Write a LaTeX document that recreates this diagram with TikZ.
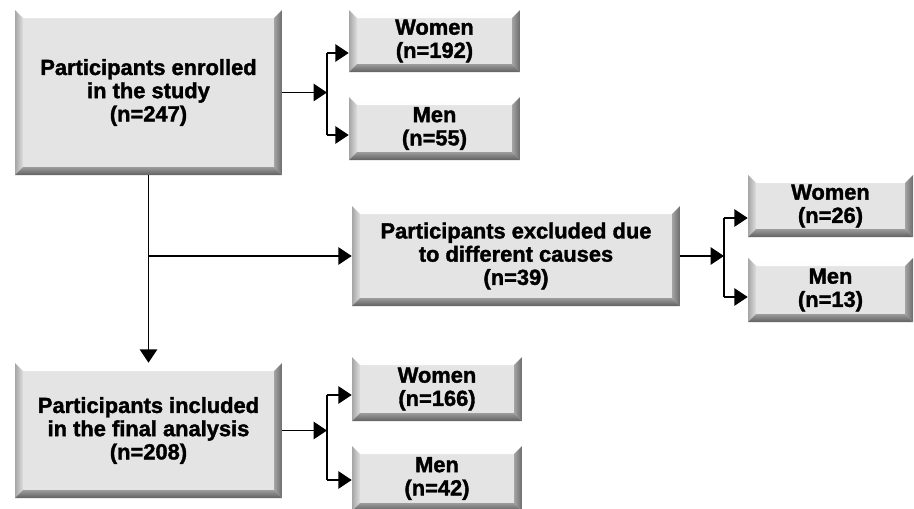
\documentclass[tikz,border=0pt]{standalone}
\usepackage{fontspec}
\setmainfont{Liberation Sans}
\newfontfamily\boxfont{Liberation Sans Bold}[FakeBold=1.6]
\usetikzlibrary{arrows.meta}
\definecolor{boxface}{HTML}{E4E4E4}
\definecolor{bevtop}{HTML}{F4F4F4}
\definecolor{bevleftout}{HTML}{A6A6A6}
\definecolor{bevleftin}{HTML}{DEDEDE}
\definecolor{bevrightin}{HTML}{A4A4A4}
\definecolor{bevrightout}{HTML}{6C6C6C}
\definecolor{bevbotin}{HTML}{9C9C9C}
\definecolor{bevbotout}{HTML}{606060}
\tikzset{
  bevelbox/.style={rectangle, fill=boxface, align=center, inner sep=0pt,
    font=\fontsize{16.4}{17.4}\selectfont\boxfont,
    path picture={
      \shade[top color=white, bottom color=bevtop] (path picture bounding box.north west) -- (path picture bounding box.north east) -- ([shift={(-6pt,-6pt)}]path picture bounding box.north east) -- ([shift={(6pt,-6pt)}]path picture bounding box.north west) -- cycle;
      \shade[left color=bevleftout, right color=bevleftin] (path picture bounding box.north west) -- ([shift={(6pt,-6pt)}]path picture bounding box.north west) -- ([shift={(6pt,6pt)}]path picture bounding box.south west) -- (path picture bounding box.south west) -- cycle;
      \shade[left color=bevrightin, right color=bevrightout] (path picture bounding box.north east) -- (path picture bounding box.south east) -- ([shift={(-6pt,6pt)}]path picture bounding box.south east) -- ([shift={(-6pt,-6pt)}]path picture bounding box.north east) -- cycle;
      \shade[top color=bevbotin, bottom color=bevbotout] (path picture bounding box.south west) -- (path picture bounding box.south east) -- ([shift={(-6pt,6pt)}]path picture bounding box.south east) -- ([shift={(6pt,6pt)}]path picture bounding box.south west) -- cycle;
    }},
  flowline/.style={line width=1.1pt, black},
  flowarrow/.style={flowline, -{Triangle[length=10pt, width=13pt]}},
}
\begin{document}
\begin{tikzpicture}[x=0.75pt,y=-0.75pt]
\useasboundingbox (0,0) rectangle (914,508);
% boxes
\node[bevelbox, minimum width=200.25pt, minimum height=123.75pt] (enrolled) at (148.5,92.5) {Participants enrolled\\in the study\\(n=247)};
\node[bevelbox, minimum width=128.25pt, minimum height=46.5pt] (enrwomen) at (434.5,41) {Women\\(n=192)};
\node[bevelbox, minimum width=128.25pt, minimum height=47.25pt] (enrmen) at (434.5,128.5) {Men\\(n=55)};
\node[bevelbox, minimum width=246pt, minimum height=75pt] (excluded) at (516,256) {Participants excluded due\\to different causes\\(n=39)};
\node[bevelbox, minimum width=123.75pt, minimum height=46.5pt] (excwomen) at (830.5,206) {Women\\(n=26)};
\node[bevelbox, minimum width=123.75pt, minimum height=48pt] (excmen) at (830.5,290) {Men\\(n=13)};
\node[bevelbox, minimum width=200.25pt, minimum height=101.25pt] (included) at (148.5,430.5) {Participants included\\in the final analysis\\(n=208)};
\node[bevelbox, minimum width=127.5pt, minimum height=48pt] (incwomen) at (437,389) {Women\\(n=166)};
\node[bevelbox, minimum width=127.5pt, minimum height=48.75pt] (incmen) at (437,478.5) {Men\\(n=42)};
% junctions
\coordinate (enrw) at (327,53);
\coordinate (enrm) at (327,135);
\coordinate (excw) at (724,218);
\coordinate (excm) at (724,297);
\coordinate (incw) at (327,395);
\coordinate (incm) at (327,480);
\coordinate (branch) at (enrolled.south |- excluded.west);
% connectors
\draw[flowarrow] (enrolled.east) -- (enrolled.east -| enrw);
\draw[flowline] (enrw) -- (enrm);
\draw[flowarrow] (enrw) -- (enrw -| enrwomen.west);
\draw[flowarrow] (enrm) -- (enrm -| enrmen.west);
\draw[flowarrow] (enrolled.south) -- (included.north);
\draw[flowarrow] (branch) -- (excluded.west);
\draw[flowarrow] (excluded.east) -- (excluded.east -| excw);
\draw[flowline] (excw) -- (excm);
\draw[flowarrow] (excw) -- (excw -| excwomen.west);
\draw[flowarrow] (excm) -- (excm -| excmen.west);
\draw[flowarrow] (included.east) -- (included.east -| incw);
\draw[flowline] (incw) -- (incm);
\draw[flowarrow] (incw) -- (incw -| incwomen.west);
\draw[flowarrow] (incm) -- (incm -| incmen.west);
\end{tikzpicture}
\end{document}
